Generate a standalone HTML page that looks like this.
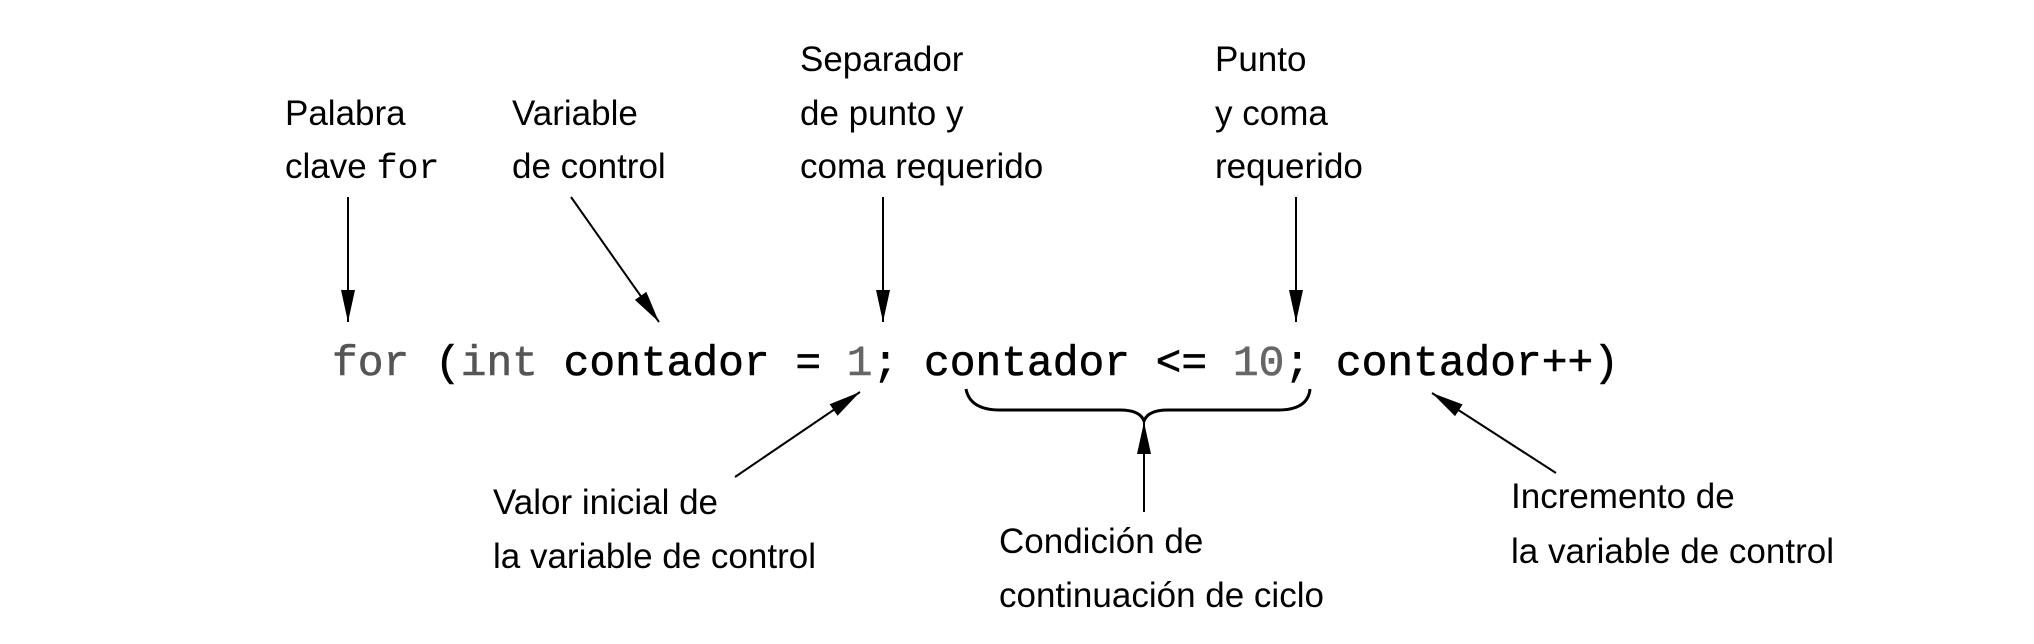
<!DOCTYPE html>
<html><head><meta charset="utf-8"><style>
html,body{margin:0;padding:0;background:#fff;}
svg{display:block;}
.l{font-family:"Liberation Sans",sans-serif;font-size:35px;fill:#000;}
.c{font-family:"Liberation Mono",monospace;font-size:42.8px;}
</style></head><body>
<svg width="2034" height="644" viewBox="0 0 2034 644" xmlns="http://www.w3.org/2000/svg">
<defs><marker id="a" markerWidth="32" markerHeight="14" refX="32" refY="7" orient="auto" markerUnits="userSpaceOnUse" viewBox="0 0 32 14"><path d="M0,0 L32,7 L0,14 Z" fill="#000"/></marker></defs>
<g class="l">
<text x="285" y="125">Palabra</text>
<text x="285" y="178">clave <tspan style="font-family:'Liberation Mono',monospace">for</tspan></text>
<text x="512" y="125">Variable</text>
<text x="512" y="178">de control</text>
<text x="800" y="71">Separador</text>
<text x="800" y="125">de punto y</text>
<text x="800" y="178">coma requerido</text>
<text x="1215" y="71">Punto</text>
<text x="1215" y="125">y coma</text>
<text x="1215" y="178">requerido</text>
<text x="493" y="514">Valor inicial de</text>
<text x="493" y="568">la variable de control</text>
<text x="999" y="553">Condición de</text>
<text x="999" y="607">continuación de ciclo</text>
<text x="1511" y="508">Incremento de</text>
<text x="1511" y="563">la variable de control</text>
</g>
<text class="c" x="332" y="375" textLength="1287" lengthAdjust="spacingAndGlyphs" stroke="#000" stroke-width="0.6"><tspan fill="#555" stroke="#555">for</tspan> (<tspan fill="#555" stroke="#555">int</tspan> contador = <tspan fill="#666" stroke="#666">1</tspan>; contador &lt;= <tspan fill="#666" stroke="#666">10</tspan>; contador++)</text>
<g stroke="#000" stroke-width="2" fill="none">
<line x1="348" y1="197" x2="348" y2="322" marker-end="url(#a)"/>
<line x1="571" y1="197" x2="659" y2="322" marker-end="url(#a)"/>
<line x1="883" y1="197" x2="883" y2="322" marker-end="url(#a)"/>
<line x1="1296" y1="197" x2="1296" y2="322" marker-end="url(#a)"/>
<line x1="735" y1="477" x2="860" y2="392" marker-end="url(#a)"/>
<line x1="1144" y1="512" x2="1144" y2="422" marker-end="url(#a)"/>
<line x1="1556" y1="473" x2="1432" y2="393" marker-end="url(#a)"/>
<path d="M966,389 Q970,410 1000,410 L1120,410 Q1140,410 1144,421 Q1148,410 1168,410 L1278,410 Q1308,410 1310,389" stroke-width="3"/>
</g>
</svg>
</body></html>
